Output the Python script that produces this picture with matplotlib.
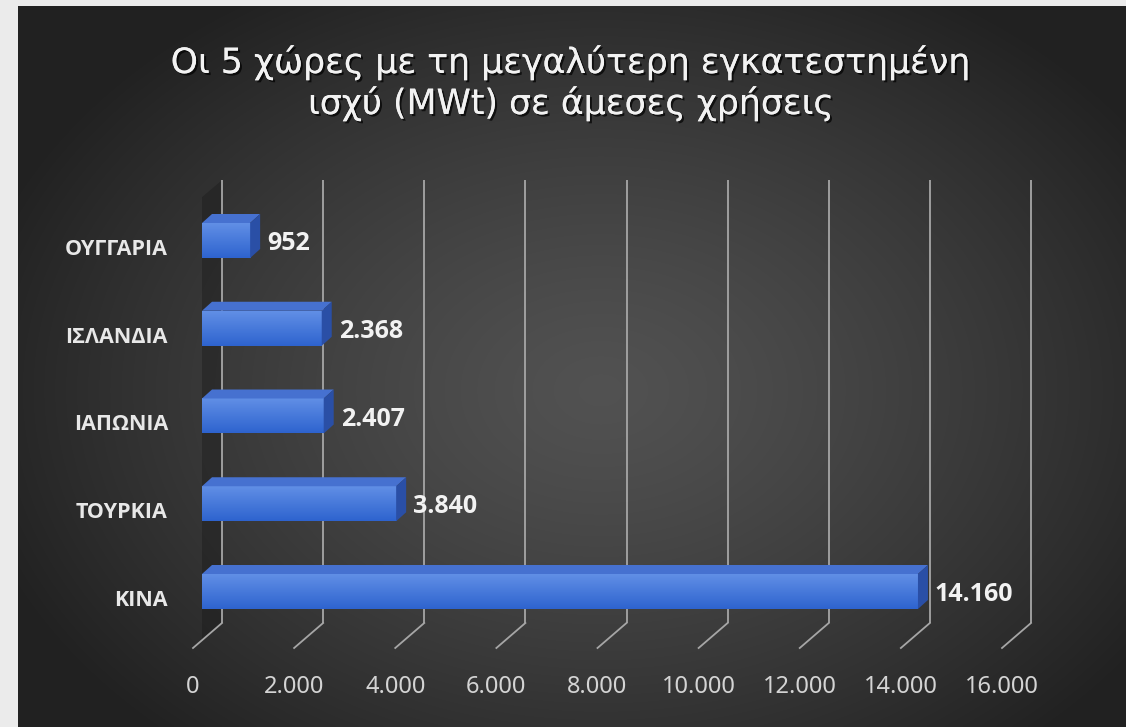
import numpy as np
import matplotlib
matplotlib.use("Agg")
import matplotlib.pyplot as plt
from matplotlib.patches import Polygon
import matplotlib.patheffects as pe

# ---------------- data ----------------
categories = ["ΚΙΝΑ", "ΤΟΥΡΚΙΑ", "ΙΑΠΩΝΙΑ", "ΙΣΛΑΝΔΙΑ", "ΟΥΓΓΑΡΙΑ"]
values = [14160, 3840, 2407, 2368, 952]
xticks = [0, 2000, 4000, 6000, 8000, 10000, 12000, 14000, 16000]
title_lines = ["Οι 5 χώρες με τη μεγαλύτερη εγκατεστημένη",
               "ισχύ (MWt) σε άμεσες χρήσεις"]

def fmt(v):
    return f"{v:,}".replace(",", ".")

W, H = 1126, 727
FONT = ["Noto Sans", "DejaVu Sans"]
FONT_B = ["Open Sans", "DejaVu Sans"]
FONT_T = ["DejaVu Sans"]
fig = plt.figure(figsize=(W / 100, H / 100), dpi=100)

# ---------------- background ----------------
bg = fig.add_axes([0, 0, 1, 1])
bg.set_xlim(0, W)
bg.set_ylim(H, 0)
bg.axis("off")
bg.add_patch(plt.Rectangle((0, 0), W, H, color="#ebebeb", zorder=0))
yy, xx = np.mgrid[6:H:2, 18:W:2]
d = np.sqrt(((xx - 600) / 650.0) ** 2 + ((yy - 390) / 470.0) ** 2)
lev = 0.32 - (0.32 - 0.13) * np.clip(d, 0, 1) ** 1.3
img = np.dstack([lev, lev, lev])
bg.imshow(img, extent=[18, W, H, 6], aspect="auto", zorder=1, interpolation="bilinear")

# ---------------- plot axes ----------------
L, R, T, B = 202, 1011, 180, 648
ax = fig.add_axes([L / W, (H - B) / H, (R - L) / W, (B - T) / H])
ax.axis("off")
ax.patch.set_alpha(0)
xmax = 16000
sx = (R - L) / xmax            # px per unit
y0_px, step_px = 591.5, 87.75  # category 0 centre and spacing (px)
sy = step_px
ymin = -(B - y0_px) / sy
ymaxv = (y0_px - T) / sy
ax.set_xlim(0, xmax)
ax.set_ylim(ymin, ymaxv)

dxb = 20 / sx      # back-wall offset
dxf = -9 / sx      # front floor offset
y_floor_back = -(623 - y0_px) / sy
grid_c = "#a6a6a6"

# side wall
wall = Polygon([(dxf, ymin), (dxb, y_floor_back), (dxb, ymaxv), (dxf, ymaxv - 25 / sy)],
               closed=True, facecolor="#151515", alpha=0.35, edgecolor="none", zorder=1)
ax.add_patch(wall)

for v in xticks:
    ax.plot([v + dxb, v + dxb], [y_floor_back, ymaxv], color=grid_c, lw=1.3, zorder=2,
            solid_capstyle="butt", clip_on=False)
    ax.plot([v + dxb, v + dxf], [y_floor_back, ymin], color=grid_c, lw=1.3, zorder=2,
            clip_on=False)
    ax.text(v + dxf, -(687 - y0_px) / sy, fmt(v), ha="center", va="center",
            fontsize=17, color="#d4d4d4", family=FONT, clip_on=False)

# bars
h = 35 / sy
ddx, ddy = 10 / sx, 9 / sy
grad = np.linspace(0, 1, 64)[:, None]
c_top = np.array([0.38, 0.56, 0.90])
c_bot = np.array([0.18, 0.39, 0.81])
bar_img = (c_top[None, None, :] * (1 - grad[..., None]) + c_bot[None, None, :] * grad[..., None])
for i, v in enumerate(values):
    yc = i
    # soft shadow on the wall to the left of each bar
    ax.add_patch(Polygon([(dxf, yc - h / 2 - 4 / sy), (0, yc - h / 2 - 4 / sy),
                          (0, yc + h / 2 + ddy), (dxf, yc + h / 2 + ddy)], closed=True,
                         facecolor="black", alpha=0.35, edgecolor="none", zorder=3))
    ax.imshow(bar_img, extent=[0, v, yc - h / 2, yc + h / 2], aspect="auto",
              zorder=5, interpolation="bilinear")
    top = Polygon([(0, yc + h / 2), (v, yc + h / 2), (v + ddx, yc + h / 2 + ddy),
                   (ddx, yc + h / 2 + ddy)], closed=True, facecolor="#4671d0",
                  edgecolor="none", zorder=5)
    side = Polygon([(v, yc - h / 2), (v + ddx, yc - h / 2 + ddy), (v + ddx, yc + h / 2 + ddy),
                    (v, yc + h / 2)], closed=True, facecolor="#2a4fa6",
                   edgecolor="none", zorder=5)
    ax.add_patch(top)
    ax.add_patch(side)
    ax.text(v + ddx + 7 / sx, yc - 3 / sy, fmt(v), ha="left", va="center",
            fontsize=18, fontweight="bold", color="#f2f2f2", family=FONT_B, zorder=6)
    ax.text(-34 / sx, yc - 9 / sy, categories[i], ha="right", va="center",
            fontsize=15.5, fontweight="bold", color="#e8e8e8", family=FONT_B, clip_on=False)

ax.set_xlim(0, xmax)
ax.set_ylim(ymin, ymaxv)

# ---------------- title ----------------
shadow = [pe.withSimplePatchShadow(offset=(1.5, -1.5), shadow_rgbFace="black", alpha=0.7),
          pe.Normal()]
for k, (line, base) in enumerate(zip(title_lines, [73, 114])):
    fig.text(571 / W, 1 - base / H, line, ha="center", va="baseline", fontsize=25,
             color="#f2f2f2", family=FONT_T, path_effects=shadow)

fig.savefig("out.png", dpi=100)
